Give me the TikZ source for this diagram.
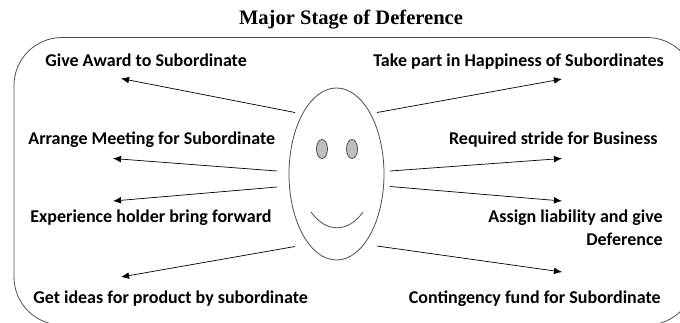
\documentclass[tikz,border=0pt]{standalone}
\usepackage{fontspec}
\setmainfont{Liberation Serif}
\newfontfamily\labelfont{Carlito}
\usetikzlibrary{arrows.meta}
\definecolor{face-gray}{gray}{0.75}
\definecolor{line-gray}{gray}{0.3}
\tikzset{
	stagelabel/.style={font=\labelfont\bfseries\fontsize{10.25}{12.7}\selectfont, inner sep=0pt},
	stagearrow/.style={-{Latex[length=4.6pt,width=3.8pt]}, line width=0.4pt, black},
	outline/.style={draw=line-gray, line width=0.45pt}
}

\begin{document}
\begin{tikzpicture}[x=0.02cm, y=-0.02cm]

	\useasboundingbox (0,0) rectangle (680,322);
	\clip (0,0) rectangle (680,322);

	\node[font=\bfseries\fontsize{11.7}{14}\selectfont, inner sep=0pt, anchor=base] (title) at (351,24) {Major Stage of Deference};

	\draw[outline, rounded corners=27.3pt] (14,37.5) rectangle (695,325);

	% face
	\draw[outline] (336.5,174) ellipse [x radius=47.5, y radius=86];
	\draw[outline, fill=face-gray] (322,149) ellipse [x radius=5.5, y radius=9.5];
	\draw[outline, fill=face-gray] (352,149) ellipse [x radius=5.5, y radius=9.5];
	\draw[outline] (311,212) .. controls (326,233) and (348,233) .. (363,212);

	% labels
	\node[stagelabel, anchor=base west] (award) at (45,66) {Give Award to Subordinate};
	\node[stagelabel, anchor=base west] (meeting) at (28,144) {Arrange Meeting for Subordinate};
	\node[stagelabel, anchor=base west] (holder) at (30,222) {Experience holder bring forward};
	\node[stagelabel, anchor=base west] (ideas) at (33,303) {Get ideas for product by subordinate};
	\node[stagelabel, anchor=base east] (happiness) at (664,66) {Take part in Happiness of Subordinates};
	\node[stagelabel, anchor=base east] (stride) at (658,144) {Required stride for Business};
	\node[stagelabel, anchor=north east, align=right] (liability) at (663,210) {Assign liability and give\\Deference};
	\node[stagelabel, anchor=base east] (fund) at (661,303) {Contingency fund for Subordinate};

	% arrow ends
	\coordinate (awardtail) at (295,112.5);
	\coordinate (awardtip) at (121,78.5);
	\coordinate (meetingtail) at (277,171);
	\coordinate (meetingtip) at (113,158.5);
	\coordinate (holdertail) at (277,187);
	\coordinate (holdertip) at (113,201);
	\coordinate (ideastail) at (295,246.5);
	\coordinate (ideastip) at (121,277);
	\coordinate (happinesstail) at (377,112.5);
	\coordinate (happinesstip) at (562,79);
	\coordinate (stridetail) at (390,171);
	\coordinate (stridetip) at (562,158.5);
	\coordinate (liabilitytail) at (390,186.5);
	\coordinate (liabilitytip) at (562,201);
	\coordinate (fundtail) at (377,246);
	\coordinate (fundtip) at (562,272);

	\foreach \stage in {award,meeting,holder,ideas,happiness,stride,liability,fund}{
		\draw[stagearrow] (\stage tail)--(\stage tip);
	}

\end{tikzpicture}
\end{document}
